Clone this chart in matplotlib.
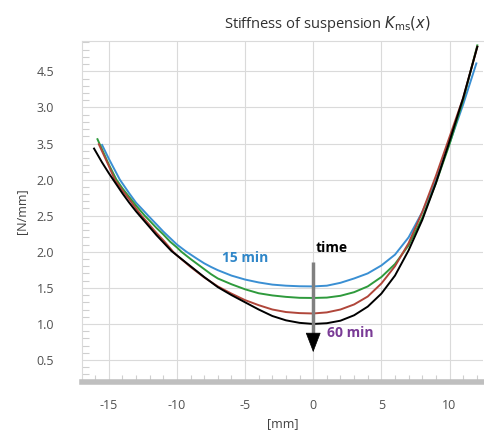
import numpy as np
import matplotlib
matplotlib.use("Agg")
import matplotlib.pyplot as plt
from matplotlib.ticker import MultipleLocator

plt.rcParams['font.family'] = ['Open Sans', 'DejaVu Sans']
plt.rcParams['axes.unicode_minus'] = False

# data: displacement [mm] and stiffness [N/mm]
x_15 = [-15.49, -15, -14.19, -13.5, -13, -12.5, -12.11, -11.5, -11, -10.5, -10, -9.3, -8.5, -8, -7.5,
        -7, -6, -5, -4, -3, -2, -1, 0, 1, 2, 3, 4, 5, 6, 7, 8, 9, 10, 11, 11.97]
k_15 = [3.48, 3.29, 3.0, 2.81, 2.68, 2.58, 2.5, 2.38, 2.28, 2.19, 2.10, 2.0, 1.90, 1.84, 1.79,
        1.745, 1.67, 1.615, 1.575, 1.545, 1.53, 1.522, 1.52, 1.53, 1.57, 1.63, 1.70, 1.81, 1.96, 2.20,
        2.55, 2.99, 3.50, 4.04, 4.61]

x_30 = [-15.83, -15, -14.44, -14, -13.5, -13, -12.36, -12, -11.5, -11, -10.5, -10, -9.67, -9, -8.5,
        -8, -7.5, -7, -6, -5, -4, -3, -2, -1, 0, 1, 2, 3, 4, 5, 6, 7, 8, 9, 10, 11, 12.04]
k_30 = [3.56, 3.21, 3.0, 2.88, 2.76, 2.64, 2.5, 2.43, 2.33, 2.24, 2.14, 2.06, 2.0, 1.90, 1.83,
        1.76, 1.69, 1.63, 1.55, 1.48, 1.425, 1.395, 1.375, 1.362, 1.36, 1.365, 1.39, 1.44, 1.52,
        1.65, 1.83, 2.09, 2.47, 2.95, 3.49, 4.10, 4.86]

x_45 = [-15.73, -15, -14.56, -14, -13.5, -13, -12.6, -12, -11.5, -11, -10.5, -10.28, -10, -9, -8,
        -7, -6, -5, -4, -3, -2, -1, 0, 1, 2, 3, 4, 5, 6, 7, 8, 9, 10, 11, 12.04]
k_45 = [3.49, 3.19, 3.0, 2.85, 2.73, 2.60, 2.5, 2.37, 2.26, 2.16, 2.05, 2.0, 1.95, 1.79, 1.645,
        1.52, 1.42, 1.33, 1.26, 1.20, 1.165, 1.15, 1.145, 1.16, 1.20, 1.27, 1.38, 1.56, 1.80, 2.12,
        2.55, 3.05, 3.59, 4.13, 4.84]

x_60 = [-16.08, -15.5, -15, -14.68, -14, -13.5, -13, -12.73, -12, -11.5, -11, -10.4, -10, -9, -8,
        -7, -6, -5, -4, -3, -2, -1, 0, 1, 2, 3, 4, 5, 6, 7, 8, 9, 10, 11, 12.04]
k_60 = [3.43, 3.24, 3.09, 3.0, 2.81, 2.68, 2.56, 2.5, 2.34, 2.23, 2.13, 2.01, 1.95, 1.80, 1.65,
        1.51, 1.40, 1.30, 1.20, 1.11, 1.05, 1.015, 1.0, 1.01, 1.045, 1.12, 1.24, 1.42, 1.67, 2.02,
        2.44, 2.95, 3.53, 4.13, 4.84]

x_ticks = [-15, -10, -5, 0, 5, 10]
y_ticks = [0.5, 1.0, 1.5, 2.0, 2.5, 3.0, 3.5, 4.0, 4.5]
y_labels = ['0.5', '1.0', '1.5', '2.0', '2.5', '2.0', '3.5', '3.0', '4.5']

fig = plt.figure(figsize=(4.84, 4.32), dpi=100)
ax = fig.add_axes([0.169, 0.116, 0.829, 0.789])

ax.plot(x_15, k_15, color='#3a8fd3', lw=1.4)
ax.plot(x_30, k_30, color='#2e9a3c', lw=1.4)
ax.plot(x_45, k_45, color='#b0463a', lw=1.4)
ax.plot(x_60, k_60, color='black', lw=1.4)

ax.set_xlim(-16.98, 12.46)
ax.set_ylim(0.197, 4.92)
ax.set_xticks(x_ticks)
ax.set_yticks(y_ticks)
ax.set_yticklabels(y_labels)
ax.xaxis.set_minor_locator(MultipleLocator(1))
ax.yaxis.set_minor_locator(MultipleLocator(0.1))
ax.grid(True, color='#dadada', lw=0.8)
ax.set_axisbelow(True)

ax.tick_params(axis='both', which='major', length=0, labelsize=9, labelcolor='#505050')
ax.tick_params(axis='y', which='major', pad=20)
ax.tick_params(axis='x', which='major', pad=12)
ax.tick_params(axis='both', which='minor', direction='in', length=5, color='#cfcfcf', width=0.8)

ax.spines['right'].set_visible(False)
ax.spines['top'].set_color('#dadada')
ax.spines['left'].set_color('#dadada')
ax.spines['bottom'].set_color('#bfbfbf')
ax.spines['bottom'].set_linewidth(4)

ax.set_xlabel('[mm]', fontsize=9, color='#404040', labelpad=4)
ax.set_ylabel('[N/mm]', fontsize=9, color='#404040', labelpad=6)
fig.text(0.676, 0.945, r'Stiffness of suspension $\mathit{K}_{\mathrm{ms}}(\mathit{x})$',
         ha='center', va='center', fontsize=10.5, color='#303030')

# time arrow
ax.plot([0, 0], [1.86, 0.8], color='#808080', lw=2.5, solid_capstyle='butt')
ax.annotate('', xy=(0, 0.57), xytext=(0, 0.84),
            arrowprops=dict(arrowstyle='-|>,head_width=0.5,head_length=1.3',
                            color='black', lw=0.5))
ax.text(0.2, 2.05, 'time', fontsize=10, fontweight='bold', color='black', va='center')
ax.text(-5.0, 1.91, '15 min', fontsize=10, fontweight='bold', color='#2f86c8',
        ha='center', va='center')
ax.text(1.0, 0.87, '60 min', fontsize=10, fontweight='bold', color='#7a3b96',
        va='center')

fig.savefig('out.png', dpi=100)
